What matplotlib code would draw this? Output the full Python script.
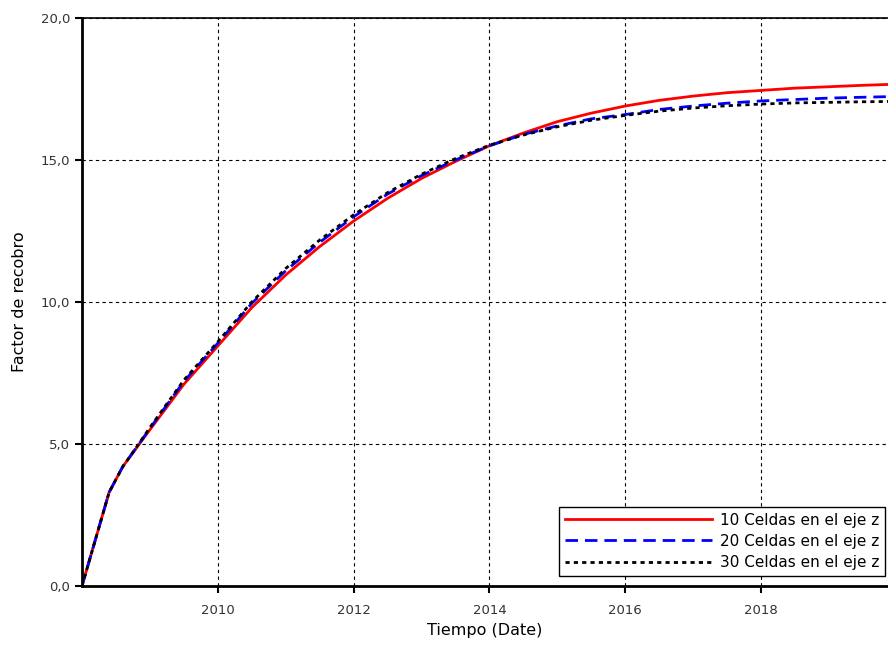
import matplotlib

matplotlib.use("Agg")
import matplotlib.pyplot as plt
import matplotlib.dates as mdates
import numpy as np
from matplotlib.ticker import FuncFormatter, MultipleLocator

# decimal years of the sampled points
years = [2008.00, 2008.40, 2008.60, 2008.83, 2009.0, 2009.5, 2010.0, 2010.5,
         2011.0, 2011.5, 2012.0, 2012.5, 2013.0, 2013.5, 2014.0, 2014.5,
         2015.0, 2015.5, 2016.0, 2016.5, 2017.0, 2017.5, 2018.0, 2018.5,
         2019.0, 2019.5, 2019.87]

celdas_10 = [0.0, 3.3, 4.2, 4.95, 5.5, 7.1, 8.45, 9.8, 10.95, 11.95, 12.85,
             13.65, 14.35, 14.95, 15.5, 15.95, 16.35, 16.65, 16.9, 17.1,
             17.25, 17.37, 17.45, 17.53, 17.58, 17.63, 17.66]
celdas_20 = [0.0, 3.3, 4.2, 4.97, 5.55, 7.2, 8.55, 9.95, 11.1, 12.1, 13.0,
             13.8, 14.45, 15.0, 15.5, 15.9, 16.2, 16.45, 16.6, 16.78, 16.9,
             17.0, 17.08, 17.13, 17.18, 17.21, 17.23]
celdas_30 = [0.0, 3.3, 4.2, 4.98, 5.58, 7.25, 8.6, 10.0, 11.18, 12.18, 13.07,
             13.85, 14.5, 15.05, 15.52, 15.88, 16.17, 16.4, 16.57, 16.72,
             16.83, 16.91, 16.97, 17.01, 17.03, 17.05, 17.06]

tick_years = ["2010", "2012", "2014", "2016", "2018"]
labels = ["10 Celdas en el eje z", "20 Celdas en el eje z", "30 Celdas en el eje z"]


def to_dates(values):
    epoch = mdates.date2num(np.datetime64("2008-01-01"))
    return [epoch + (v - 2008.0) * 365.25 for v in values]


x = to_dates(years)

fig = plt.figure(figsize=(8.88, 6.52), dpi=100)
ax = fig.add_axes([0.0923, 0.1012, 0.9077, 0.8712])

ax.plot(x, celdas_10, color="#ff0000", lw=2.0, label=labels[0])
ax.plot(x, celdas_20, color="#0000ff", lw=2.0, dashes=(4.5, 2.5), label=labels[1])
ax.plot(x, celdas_30, color="black", lw=2.0, dashes=(1.5, 1.5), label=labels[2])

ax.set_xlim(to_dates([2008.0, 2019.87]))
ax.set_ylim(0, 20)
ax.set_xticks([mdates.date2num(np.datetime64(f"{y}-01-01")) for y in tick_years],
              tick_years)
ax.yaxis.set_major_locator(MultipleLocator(5))
ax.yaxis.set_major_formatter(FuncFormatter(lambda v, _: f"{v:.1f}".replace(".", ",")))

ax.grid(True, color="black", ls=(0, (3, 3)), lw=0.8)
ax.set_axisbelow(True)
ax.spines["left"].set_linewidth(2)
ax.spines["bottom"].set_linewidth(2)
ax.spines["top"].set_linewidth(1.2)
ax.spines["right"].set_visible(False)
ax.tick_params(direction="out", length=5, width=1.5, labelsize=9.5, labelcolor="#333333")
ax.tick_params(axis="x", pad=8)

ax.set_xlabel("Tiempo (Date)", fontsize=11.5, labelpad=4)
ax.set_ylabel("Factor de recobro", fontsize=11.5, labelpad=10)

leg = ax.legend(loc="lower right", bbox_to_anchor=(0.9963, 0.0176), borderaxespad=0,
                fontsize=11, frameon=True, fancybox=False, edgecolor="black",
                framealpha=1, handlelength=9.6, labelspacing=0.4,
                handletextpad=0.5, borderpad=0.4)
leg.get_frame().set_linewidth(1.0)

fig.savefig("out.png", dpi=100)
